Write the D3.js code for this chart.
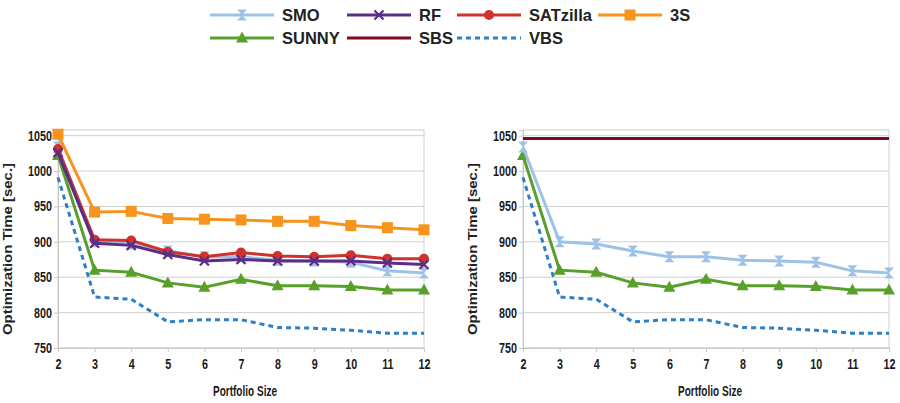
<!DOCTYPE html>
<html>
<head>
<meta charset="utf-8">
<script src="https://cdn.jsdelivr.net/npm/d3@7"></script>
<style>
  body { margin: 0; background: #fff; }
  svg { display: block; }
  .tick text { font-family: "Liberation Sans", Arial, sans-serif; font-weight: bold; font-size: 14px; fill: #1a1a1a; }
</style>
</head>
<body>
<script>
const sizes = [2, 3, 4, 5, 6, 7, 8, 9, 10, 11, 12];
const yTicks = [750, 800, 850, 900, 950, 1000, 1050];

const smo = [1034, 900, 897, 887, 879, 879, 874, 873, 871, 859, 856];
const rf = [1026, 898, 895, 882, 873, 875, 873, 873, 873, 870, 868];
const satzilla = [1031, 903, 902, 886, 879, 885, 880, 879, 881, 876, 876];
const threeS = [1052, 942, 943, 933, 932, 931, 929, 929, 923, 920, 917];
const sunny = [1022, 860, 857, 842, 836, 847, 838, 838, 837, 832, 832];
const sbs = [1046, 1046, 1046, 1046, 1046, 1046, 1046, 1046, 1046, 1046, 1046];
const vbs = [991, 822, 819, 787, 790, 790, 779, 778, 775, 771, 771];

const series = [
  { name: "SMO", values: smo, color: "#9cc3e5", marker: "hourglass" },
  { name: "RF", values: rf, color: "#5b2d86", marker: "cross" },
  { name: "SATzilla", values: satzilla, color: "#d0312d", marker: "circle" },
  { name: "3S", values: threeS, color: "#f7941e", marker: "square" },
  { name: "SUNNY", values: sunny, color: "#58a02a", marker: "triangle" },
  { name: "SBS", values: sbs, color: "#7e0a22", marker: null },
  { name: "VBS", values: vbs, color: "#2f7fc4", marker: null, dash: "5,4" }
];
const byName = Object.fromEntries(series.map(s => [s.name, s]));

const leftSeries = ["VBS", "SUNNY", "SMO", "SATzilla", "RF", "3S"];
const rightSeries = ["SBS", "VBS", "SUNNY", "SMO"];

const W = 900, H = 403;
const narrow = 0.77; // squeeze for the condensed look of the labels
const svg = d3.select("body").append("svg").attr("width", W).attr("height", H);

function drawMarker(g, type, color) {
  if (type === "hourglass") {
    g.append("path").attr("d", "M-5,-5.5L5,-5.5L-5,5.5L5,5.5Z").attr("fill", color);
  } else if (type === "cross") {
    g.append("path").attr("d", "M-4.5,-4.5L4.5,4.5M-4.5,4.5L4.5,-4.5")
      .attr("stroke", color).attr("stroke-width", 2.2).attr("fill", "none");
  } else if (type === "circle") {
    g.append("circle").attr("r", 5).attr("fill", color);
  } else if (type === "square") {
    g.append("rect").attr("x", -5.5).attr("y", -5.5).attr("width", 11).attr("height", 11).attr("fill", color);
  } else if (type === "triangle") {
    g.append("path").attr("d", "M0,-6.5L6,4.5L-6,4.5Z").attr("fill", color);
  }
}

function drawPanel(left, right, names) {
  const top = 130, bottom = 348;
  const x = d3.scaleLinear().domain([2, 12]).range([left, right]);
  const y = d3.scaleLinear().domain([750, 1058]).range([bottom, top]);

  const g = svg.append("g");

  // gridlines
  g.selectAll(".grid").data(yTicks).enter().append("line")
    .attr("x1", left).attr("x2", right)
    .attr("y1", d => y(d)).attr("y2", d => y(d))
    .attr("stroke", "#d0d0d0").attr("stroke-width", 1);
  // frame
  g.append("rect").attr("x", left).attr("y", top).attr("width", right - left).attr("height", bottom - top)
    .attr("fill", "none").attr("stroke", "#d0d0d0");

  const yAxis = g.append("g").attr("transform", `translate(${left},0)`)
    .call(d3.axisLeft(y).tickValues(yTicks).tickFormat(d3.format("d")).tickSize(4).tickPadding(2));
  yAxis.select(".domain").attr("stroke", "#c8c8c8");
  yAxis.selectAll(".tick line").attr("stroke", "#c8c8c8");
  yAxis.selectAll(".tick text").attr("x", -6 / narrow).attr("transform", `scale(${narrow},1)`);

  const xAxis = g.append("g").attr("transform", `translate(0,${bottom})`)
    .call(d3.axisBottom(x).tickValues(sizes).tickFormat(d3.format("d")).tickSize(4).tickPadding(7));
  xAxis.select(".domain").attr("stroke", "#c8c8c8");
  xAxis.selectAll(".tick line").attr("stroke", "#c8c8c8");
  xAxis.selectAll(".tick text").attr("transform", `scale(${narrow},1)`);

  g.append("text")
    .attr("transform", `translate(${left - 46},${249}) rotate(-90)`)
    .attr("text-anchor", "middle")
    .attr("textLength", 172).attr("lengthAdjust", "spacingAndGlyphs")
    .style("font-family", "'Liberation Sans', Arial, sans-serif")
    .style("font-weight", "bold").style("font-size", "13px").style("fill", "#222")
    .text("Optimization Time [sec.]");

  g.append("text")
    .attr("x", (left + right) / 2 + 4).attr("y", 396)
    .attr("text-anchor", "middle")
    .attr("textLength", 64).attr("lengthAdjust", "spacingAndGlyphs")
    .style("font-family", "'Liberation Sans', Arial, sans-serif")
    .style("font-weight", "bold").style("font-size", "14px").style("fill", "#1a1a1a")
    .text("Portfolio Size");

  const line = d3.line().x((d, i) => x(sizes[i])).y(d => y(d));

  names.forEach(n => {
    const s = byName[n];
    g.append("path").datum(s.values).attr("d", line)
      .attr("fill", "none").attr("stroke", s.color).attr("stroke-width", 3)
      .attr("stroke-dasharray", s.dash || null);
    if (s.marker) {
      s.values.forEach((v, i) => {
        const m = g.append("g").attr("transform", `translate(${x(sizes[i])},${y(v)})`);
        drawMarker(m, s.marker, s.color);
      });
    }
  });
}

drawPanel(58, 424, leftSeries);
drawPanel(523, 889, rightSeries);

// legend
const legendPos = [
  { name: "SMO", x: 210, y: 15 },
  { name: "RF", x: 347, y: 15 },
  { name: "SATzilla", x: 457, y: 15 },
  { name: "3S", x: 598, y: 15 },
  { name: "SUNNY", x: 210, y: 38 },
  { name: "SBS", x: 347, y: 38 },
  { name: "VBS", x: 457, y: 38 }
];
const legend = svg.append("g").attr("id", "legend");
legendPos.forEach(p => {
  const s = byName[p.name];
  const item = legend.append("g").attr("transform", `translate(${p.x},${p.y})`);
  item.append("line").attr("x1", 0).attr("x2", 64).attr("y1", 0).attr("y2", 0)
    .attr("stroke", s.color).attr("stroke-width", 3).attr("stroke-dasharray", s.dash || null);
  if (s.marker) drawMarker(item.append("g").attr("transform", "translate(32,0)"), s.marker, s.color);
  item.append("text").attr("x", 72).attr("y", 6)
    .style("font-family", "'Liberation Sans', Arial, sans-serif")
    .style("font-weight", "bold").style("font-size", "16.5px").style("fill", "#222")
    .text(s.name);
});
</script>
</body>
</html>
